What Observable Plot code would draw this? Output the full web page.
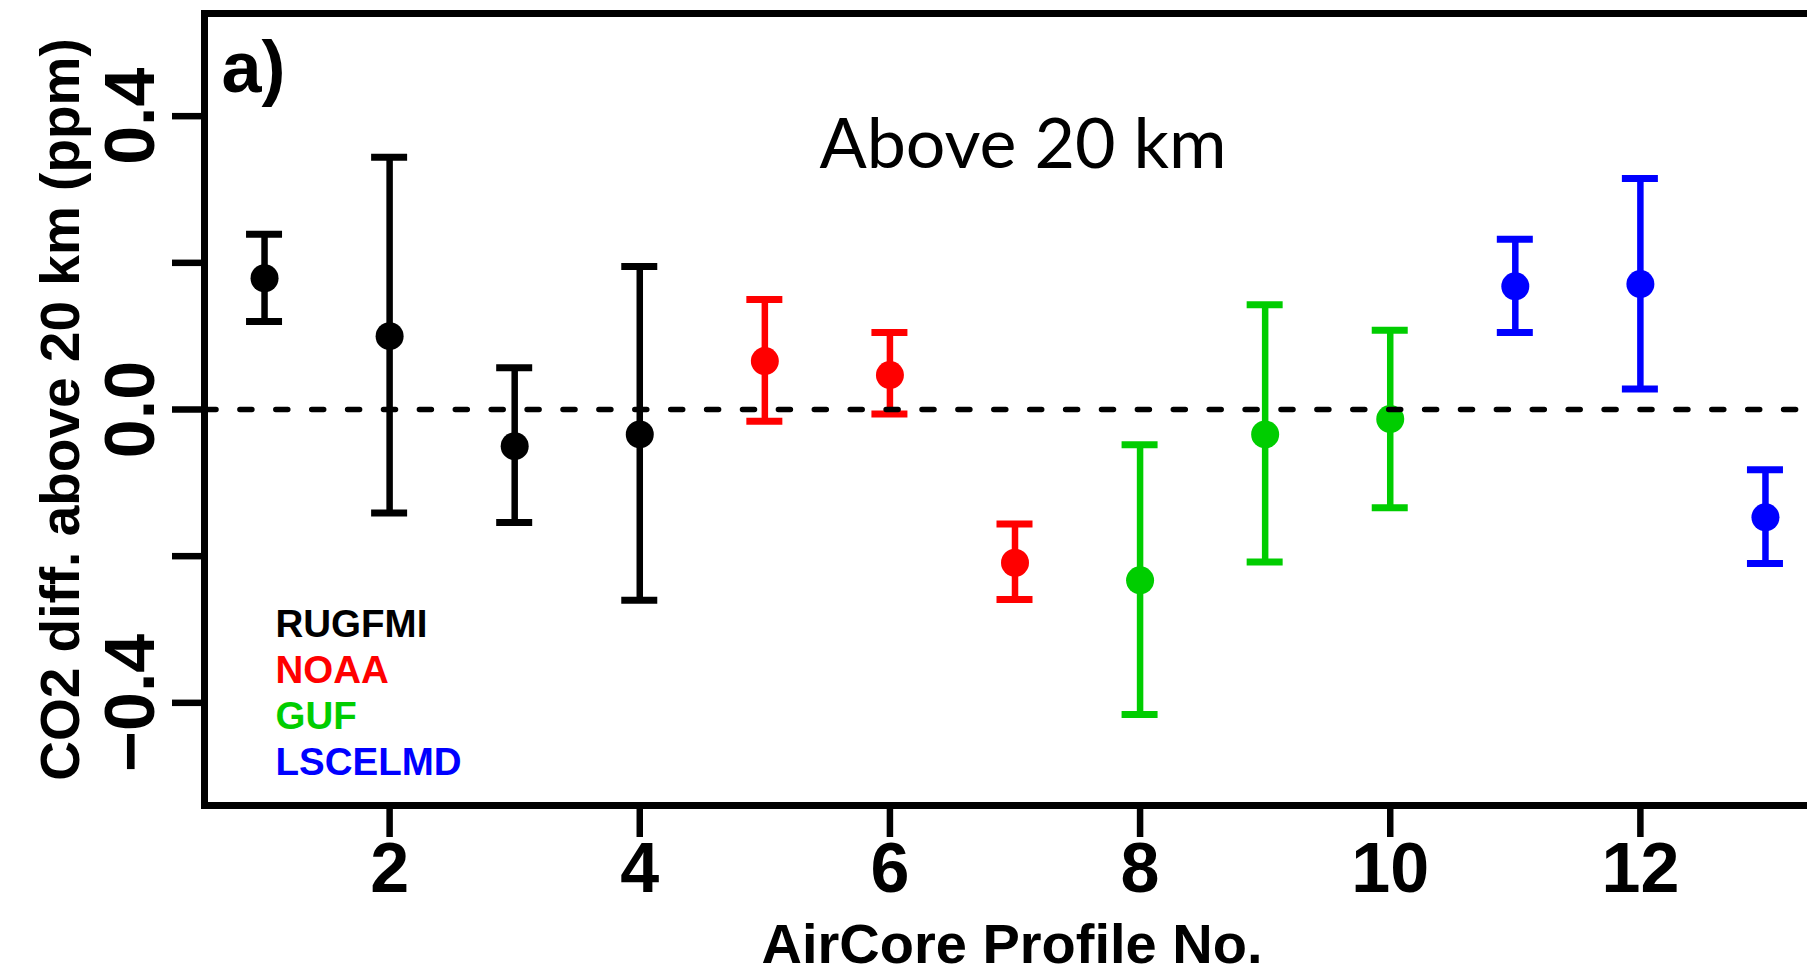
<!DOCTYPE html>
<html>
<head>
<meta charset="utf-8">
<script src="https://cdn.jsdelivr.net/npm/d3@7"></script>
<script src="https://cdn.jsdelivr.net/npm/@observablehq/plot@0.6"></script>
<style>
html, body { margin: 0; padding: 0; background: #ffffff; overflow: hidden; }
#wrap { width: 1807px; height: 974px; overflow: hidden; position: relative; }
#wrap svg { max-width: none !important; display: block; }
</style>
</head>
<body>
<div id="wrap"></div>
<script>
// ---- data ----
const profiles = [1, 2, 3, 4, 5, 6, 7, 8, 9, 10, 11, 12, 13];
const groups = ["RUGFMI", "RUGFMI", "RUGFMI", "RUGFMI", "NOAA", "NOAA", "NOAA", "GUF", "GUF", "GUF", "LSCELMD", "LSCELMD", "LSCELMD"];
const means = [0.179, 0.100, -0.050, -0.034, 0.066, 0.047, -0.209, -0.233, -0.034, -0.013, 0.168, 0.171, -0.147];
const lower = [0.120, -0.141, -0.154, -0.260, -0.016, -0.006, -0.259, -0.416, -0.208, -0.134, 0.105, 0.028, -0.210];
const upper = [0.239, 0.344, 0.057, 0.195, 0.150, 0.105, -0.156, -0.048, 0.143, 0.108, 0.232, 0.315, -0.082];

const groupNames = ["RUGFMI", "NOAA", "GUF", "LSCELMD"];
const groupColors = ["#000000", "#FF0000", "#00CD00", "#0000FF"];

const xTicks = [2, 4, 6, 8, 10, 12];
const xTickLabels = ["2", "4", "6", "8", "10", "12"];
const yTicks = [-0.4, -0.2, 0, 0.2, 0.4];
const yLabelTicks = [-0.4, 0, 0.4];
const yLabelText = ["\u22120.4", "0.0", "0.4"];

const panelLabel = "a)";
const titleText = "Above 20 km";
const xTitle = "AirCore Profile No.";
const yTitle = "CO2 diff. above 20 km (ppm)";

// ---- table for Plot ----
const data = profiles.map((p, i) => ({profile: p, group: groups[i], mean: means[i], lo: lower[i], hi: upper[i]}));

const font = "'Liberation Sans', Arial, Helvetica, sans-serif";

const legendMarks = groupNames.map((g, i) =>
  Plot.text([g], {
    text: d => d, frameAnchor: "top-left", textAnchor: "start", lineAnchor: "bottom",
    dx: 71, dy: 623 + 46 * i, fill: groupColors[i],
    fontSize: 38.5, fontWeight: "bold", fontFamily: font
  })
);

const chart = Plot.plot({
  width: 1825,
  height: 974,
  marginLeft: 204,
  marginRight: 0,
  marginTop: 13,
  marginBottom: 169,
  x: {domain: [0.52, 13.48], label: null},
  y: {domain: [-0.54, 0.54], label: null},
  color: {domain: groupNames, range: groupColors},
  style: {fontFamily: font, background: "#ffffff", color: "#000000", maxWidth: "none"},
  marks: [
    Plot.frame({stroke: "#000000", strokeWidth: 7}),
    // axes ticks
    Plot.axisX(xTicks, {tickSize: 32, strokeWidth: 6.5, tickFormat: () => "", label: null}),
    Plot.axisY(yTicks, {tickSize: 32, strokeWidth: 6.5, tickFormat: () => "", label: null}),
    // tick labels
    Plot.text(xTicks, {
      x: d => d, text: (d, i) => xTickLabels[i], frameAnchor: "bottom", lineAnchor: "top",
      dy: 37, fontSize: 70, fontWeight: "bold", fontFamily: font
    }),
    Plot.text(yLabelTicks, {
      y: d => d, text: (d, i) => yLabelText[i], frameAnchor: "left", rotate: -90,
      textAnchor: "middle", lineAnchor: "bottom", dx: -51,
      fontSize: 70, fontWeight: "bold", fontFamily: font
    }),
    // axis titles
    Plot.text([yTitle], {
      text: d => d, frameAnchor: "left", rotate: -90, textAnchor: "middle", lineAnchor: "bottom",
      dx: -126, fontSize: 55, fontWeight: "bold", fontFamily: font
    }),
    Plot.text([xTitle], {
      text: d => d, frameAnchor: "bottom", lineAnchor: "bottom", dx: -3, dy: 157,
      fontSize: 56, fontWeight: "bold", fontFamily: font
    }),
    // error bars
    Plot.ruleX(data, {x: "profile", y1: "lo", y2: "hi", stroke: "group", strokeWidth: 6.5}),
    Plot.ruleY(data, {y: "hi", x1: "profile", x2: "profile", insetLeft: -18, insetRight: -18, stroke: "group", strokeWidth: 7}),
    Plot.ruleY(data, {y: "lo", x1: "profile", x2: "profile", insetLeft: -18, insetRight: -18, stroke: "group", strokeWidth: 7}),
    Plot.dot(data, {x: "profile", y: "mean", r: 14, fill: "group", stroke: null}),
    // zero line
    Plot.ruleY([0], {stroke: "#000000", strokeWidth: 5.5, strokeDasharray: "12,23.9", strokeLinecap: "round"}),
    // panel label, title, legend
    Plot.text([panelLabel], {
      text: d => d, frameAnchor: "top-left", textAnchor: "start", lineAnchor: "bottom",
      dx: 17, dy: 78, fontSize: 72, fontWeight: "bold", fontFamily: font
    }),
    Plot.text([titleText], {
      text: d => d, frameAnchor: "top", textAnchor: "middle", lineAnchor: "bottom",
      dx: 8, dy: 154, fontSize: 69, fontWeight: "normal", fontFamily: "Lato, 'Open Sans', sans-serif"
    }),
    ...legendMarks
  ]
});

chart.style.maxWidth = "none";
// stretch the title text to the reference's width (Calibri-like proportions)
d3.select(chart).selectAll("text").filter(function () { return this.textContent === titleText; })
  .attr("textLength", 407).attr("lengthAdjust", "spacingAndGlyphs");

document.getElementById("wrap").appendChild(chart);
</script>
</body>
</html>
